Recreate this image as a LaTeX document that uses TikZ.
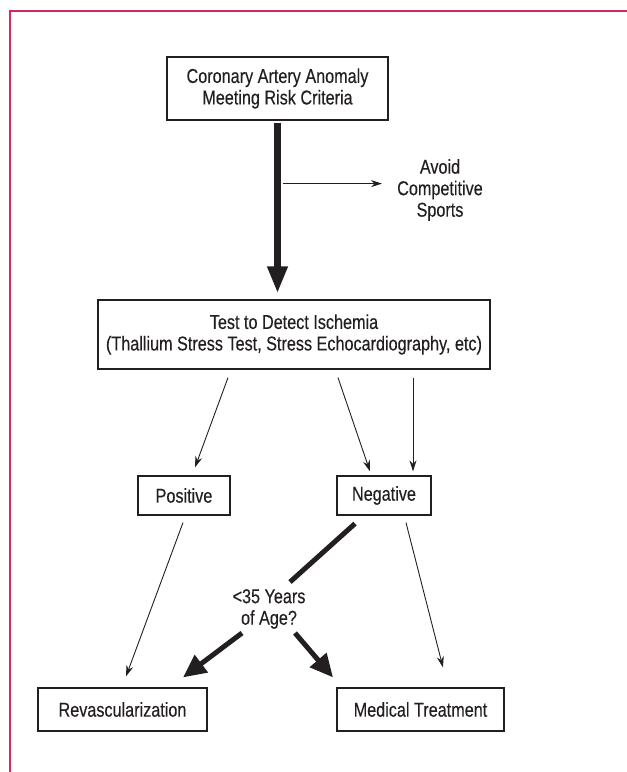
\documentclass[tikz,border=0pt]{standalone}
\usepackage{fontspec}
\setmainfont[FakeStretch=0.81,FakeBold=0.3]{Liberation Sans}
\usetikzlibrary{arrows.meta,calc}
\definecolor{framecol}{RGB}{210,40,90}
\definecolor{ink}{RGB}{35,31,32}
\begin{document}
\begin{tikzpicture}[x=1pt,y=-1pt,
  every node/.style={text=ink,font=\fontsize{20}{21.5}\selectfont,align=center,inner sep=0pt},
  box/.style={draw=ink,line width=1.2pt,minimum width=#1},
  thin/.style={draw=ink,line width=0.9pt,-{Stealth[length=11pt,width=7pt]}},
  heavy/.style={draw=ink,line width=5pt,-{Triangle[length=23pt,width=21pt]}},
  heavyplain/.style={draw=ink,line width=5pt}]
\useasboundingbox (0,0) rectangle (627,772);
\draw[framecol,line width=1.8pt] (10,11) rectangle (660,800);

\node[box=221,minimum height=63] (top) at (277.5,88.5) {Coronary Artery Anomaly\\Meeting Risk Criteria};
\node (avoid) at (440,190) {Avoid\\Competitive\\Sports};
\node[box=392,minimum height=69] (mid) at (294,334.5) {Test to Detect Ischemia\\(Thallium Stress Test, Stress Echocardiography, etc)};
\node[box=92,minimum height=39] (pos) at (184,495.5) {Positive};
\node[box=94,minimum height=39] (neg) at (384,495.5) {Negative};
\node (age) at (269,609) {<35 Years\\of Age?};
\node[box=169,minimum height=43] (rev) at (122.5,709.5) {Revascularization};
\node[box=167,minimum height=43] (med) at (420.5,709.5) {Medical Treatment};

% thick main arrow
\draw[draw=ink,line width=7pt,-{Triangle[length=27pt,width=19pt]}]
  ($(top.south)+(0,2)$) -- ($(mid.north)+(-16.5,-6)$);
\coordinate (branch) at ($(top.south)+(5,63)$);
\draw[thin] (branch) -- ([xshift=-15pt]branch -| avoid.west);

% from test box
\draw[thin] ($(mid.south)+(-66,8)$) -- ($(pos.north)+(11,-8)$);
\draw[thin] ($(mid.south)+(44,8)$) -- ($(neg.north)+(-14,-4)$);
\draw[thin] ($(mid.south)+(119,8)$) -- ($(neg.north)+(29,-4)$);

% lower thin arrows
\draw[thin] ($(pos.south)+(-1,7)$) -- ($(rev.north)+(3.5,-11)$);
\draw[thin] ($(neg.south)+(22,7)$) -- ($(med.north)+(22.5,-20)$);

% heavy age branch
\draw[heavyplain] ($(neg.south)+(-29,8)$) -- ($(age.center)+(21,-27)$);
\draw[heavy] ($(age.center)+(-27,24)$) -- ($(rev.north)+(60.5,-10)$);
\draw[heavy] ($(age.center)+(26,24)$) -- ($(med.north)+(-87.5,-10)$);
\end{tikzpicture}
\end{document}
